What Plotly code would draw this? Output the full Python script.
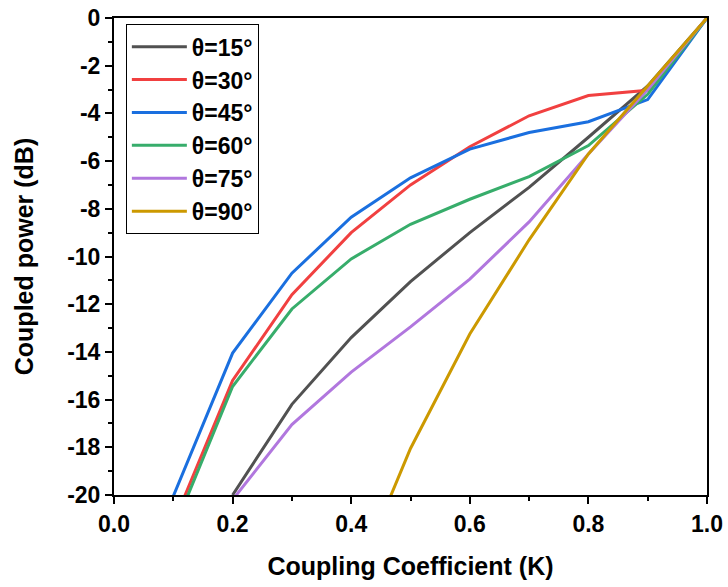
import plotly.graph_objects as go

# Coupling coefficient K sampled at 0.1 steps
k_values = [0.1, 0.2, 0.3, 0.4, 0.5, 0.6, 0.7, 0.8, 0.9, 1.0]

# Coupled power (dB) for each launch angle
power_15 = [None, -20.0, -16.2, -13.4, -11.05, -9.0, -7.1, -5.0, -2.85, 0.0]
power_30 = [-21.2, -15.2, -11.6, -9.0, -7.0, -5.4, -4.1, -3.25, -3.03, 0.0]
power_45 = [-20.05, -14.05, -10.7, -8.35, -6.7, -5.5, -4.8, -4.35, -3.42, 0.0]
power_60 = [-21.5, -15.45, -12.2, -10.1, -8.65, -7.6, -6.65, -5.35, -3.2, 0.0]
power_75 = [None, -20.2, -17.05, -14.85, -12.95, -10.95, -8.55, -5.7, -3.0, 0.0]
power_90 = [None, None, None, -24.0, -18.05, -13.25, -9.3, -5.7, -2.85, 0.0]

series_names = ["θ=15°", "θ=30°", "θ=45°", "θ=60°", "θ=75°", "θ=90°"]
series_values = [power_15, power_30, power_45, power_60, power_75, power_90]
series_colors = ["#515151", "#F14040", "#1A6FDF", "#37AD6B", "#B177DE", "#CC9900"]

x_tick_values = [0.0, 0.2, 0.4, 0.6, 0.8, 1.0]
x_tick_labels = ["0.0", "0.2", "0.4", "0.6", "0.8", "1.0"]
y_tick_values = [0, -2, -4, -6, -8, -10, -12, -14, -16, -18, -20]
y_tick_labels = ["0", "-2", "-4", "-6", "-8", "-10", "-12", "-14", "-16", "-18", "-20"]

FONT = "Liberation Sans, Arial, sans-serif"

fig = go.Figure()
for name, vals, color in zip(series_names, series_values, series_colors):
    fig.add_trace(go.Scatter(
        x=k_values, y=vals, mode="lines", name=name,
        legendgroup=name,
        line=dict(color=color, width=3),
        connectgaps=False,
    ))

axis_common = dict(
    showline=True, linecolor="black", linewidth=2, mirror=True,
    ticks="outside", ticklen=7, tickwidth=2, tickcolor="black",
    showgrid=False, zeroline=False, automargin=False,
    tickfont=dict(family=FONT, size=23, color="black", weight="bold"),
)

fig.update_layout(
    width=728, height=587,
    margin=dict(l=114, r=21, t=18, b=92),
    paper_bgcolor="white", plot_bgcolor="white",
    font=dict(family=FONT, color="black"),
    xaxis=dict(
        range=[0, 1.0], tickvals=x_tick_values, ticktext=x_tick_labels,
        minor=dict(ticks="outside", dtick=0.1, ticklen=4, tickwidth=2, tickcolor="black"),
        title=dict(text="Coupling Coefficient (K)", standoff=22,
                   font=dict(family=FONT, size=25, color="black", weight="bold")),
        **axis_common,
    ),
    yaxis=dict(
        range=[-20, 0], tickvals=y_tick_values, ticktext=y_tick_labels,
        minor=dict(ticks="outside", dtick=1, ticklen=4, tickwidth=2, tickcolor="black"),
        title=dict(text="Coupled power (dB)", standoff=26,
                   font=dict(family=FONT, size=25, color="black", weight="bold")),
        **axis_common,
    ),
    legend=dict(
        x=0.02, y=0.987, xanchor="left", yanchor="top",
        bordercolor="black", borderwidth=1, bgcolor="white",
        font=dict(family=FONT, size=23, color="black", weight="bold"),
        tracegroupgap=0, itemwidth=55,
    ),
    showlegend=True,
)

fig.write_html("out.html")
